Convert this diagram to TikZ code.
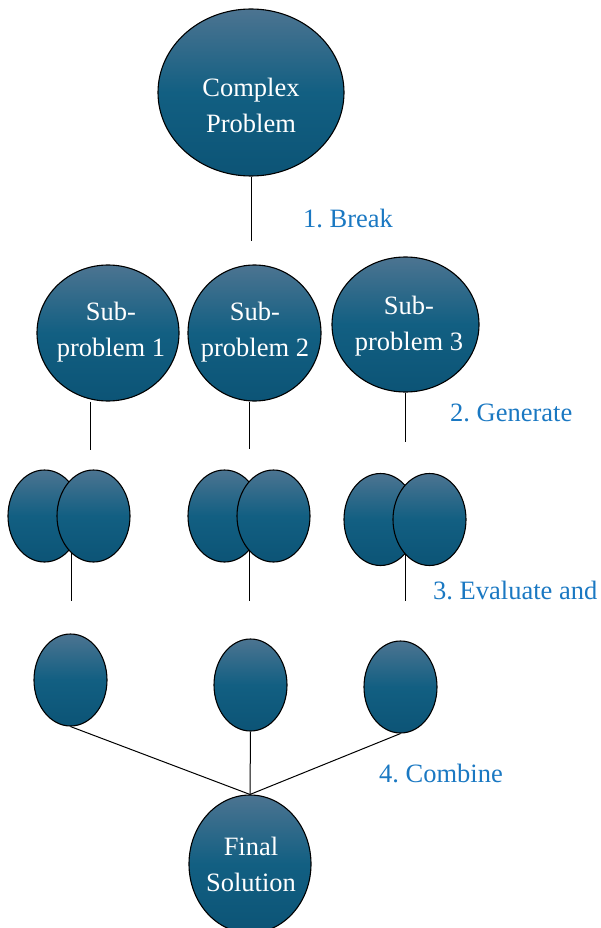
\documentclass[tikz,border=0pt]{standalone}
\usepackage{fontspec}
\setmainfont{Liberation Serif}
\frenchspacing
\usetikzlibrary{shapes.geometric,backgrounds}
\definecolor{balltop}{RGB}{76,116,145}
\definecolor{ballmid}{RGB}{18,95,130}
\definecolor{ballbot}{RGB}{12,84,118}
\definecolor{steptext}{RGB}{26,120,194}
\begin{document}
\begin{tikzpicture}[x=1pt,y=-1pt,
  ball/.style={ellipse, draw=black, line width=1.1pt, inner sep=0pt,
    top color=balltop, bottom color=ballbot, middle color=ballmid},
  smallball/.style={ball, minimum width=73pt, minimum height=92pt},
  balltext/.style={text=white, align=center, inner sep=0pt, font=\fontsize{26.5}{36}\selectfont},
  link/.style={draw=black, line width=1pt},
  steplabel/.style={text=steptext, anchor=west, inner sep=0pt, font=\fontsize{26.5}{30}\selectfont}]
\useasboundingbox (0,0) rectangle (600,928);

% top problem
\node[ball, minimum width=186pt, minimum height=167pt] (cp) at (251,92.5) {};
\node[balltext] (cptxt) at (251,105) {Complex\\Problem};
\coordinate (b0) at (251,241);

% sub-problems
\node[ball, minimum width=142pt, minimum height=136pt] (sp1) at (108,333) {};
\node[ball, minimum width=133pt, minimum height=136pt] (sp2) at (254.5,333) {};
\node[ball, minimum width=147pt, minimum height=135pt] (sp3) at (405.5,324.5) {};
\node[balltext] (sp1txt) at (111,332) {Sub-\\problem 1};
\node[balltext] (sp2txt) at (255,332) {Sub-\\problem 2};
\node[balltext] (sp3txt) at (409,326) {Sub-\\problem 3};
\coordinate (g1) at (90,450);
\coordinate (g2) at (249,449);
\coordinate (g3) at (405,442);

% generated candidate pairs
\node[smallball] (p1a) at (44.5,516) {};
\node[smallball] (p1b) at (93.5,516) {};
\node[smallball] (p2a) at (224.5,516) {};
\node[smallball] (p2b) at (273.5,516) {};
\node[smallball] (p3a) at (380.5,519.5) {};
\node[smallball] (p3b) at (429.5,519.5) {};
\coordinate (e1) at (71,601);
\coordinate (e2) at (249,601);
\coordinate (e3) at (405,601);

% selected candidates
\node[smallball] (s1) at (70.5,680) {};
\node[smallball] (s2) at (250.5,685) {};
\node[smallball] (s3) at (400.5,687) {};

% final result
\node[ball, minimum width=122pt, minimum height=138pt] (fin) at (250,864) {};
\node[balltext] (fintxt) at (251,864.5) {Final\\Solution};

% connectors behind the shapes
\begin{scope}[on background layer]
  \draw[link] (cp.south) -- (b0);
  \draw[link] (sp1.south -| g1) -- (g1);
  \draw[link] (sp2.south -| g2) -- (g2);
  \draw[link] (sp3.south -| g3) -- (g3);
  \draw[link] (e1 |- p1a.center) -- (e1);
  \draw[link] (e2 |- p2a.center) -- (e2);
  \draw[link] (e3 |- p3a.center) -- (e3);
  \draw[link] (s1.south) -- (fin.north);
  \draw[link] (s2.south) -- (fin.north);
  \draw[link] (s3.south) -- (fin.north);
\end{scope}

% step labels
\node[steplabel] (l1) at (303,218) {1. Break};
\node[steplabel] (l2) at (450,413) {2. Generate};
\node[steplabel] (l3) at (433,590) {3. Evaluate and};
\node[steplabel] (l4) at (379,773) {4. Combine};
\end{tikzpicture}
\end{document}
